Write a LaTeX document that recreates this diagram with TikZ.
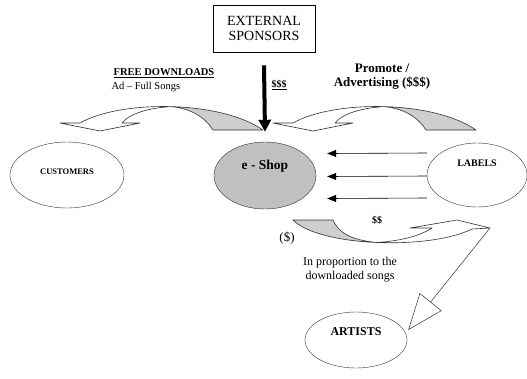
\documentclass[tikz,border=0pt]{standalone}
\usepackage{fontspec}
\setmainfont{Liberation Serif}
\usetikzlibrary{arrows.meta, shapes.geometric}
\definecolor{shopgray}{RGB}{192,192,192}
\definecolor{bandgray}{RGB}{206,206,206}
\definecolor{edge}{RGB}{50,50,50}

\begin{document}
\begin{tikzpicture}[x=1pt, y=-1pt,
    party/.style={draw=edge, ellipse, inner sep=0pt, font=\bfseries},
    band/.style={draw=edge, line width=0.6pt, line join=round},
    flow/.style={-{Triangle[length=9pt,width=7pt]}, line width=0.6pt},
    cash/.style={-{Triangle[length=12pt,width=12pt]}, line width=4pt},
    share/.style={-{Triangle[open,length=36pt,width=28pt]}, line width=0.5pt, draw=edge}
  ]
  \useasboundingbox (0,0) rectangle (527,378);

  % parties
  \node[draw, line width=0.8pt, minimum width=102pt, minimum height=47pt, align=center,
    font=\fontsize{14}{15}\selectfont] (sponsors) at (264,28.5) {EXTERNAL\\SPONSORS};
  \node[party, minimum width=114pt, minimum height=66pt, font=\bfseries\fontsize{8.5}{10}\selectfont,
    text height=6pt, text depth=8pt] (customers) at (67,175) {CUSTOMERS};
  \node[party, fill=shopgray, minimum width=102pt, minimum height=67pt, font=\bfseries\fontsize{13.5}{15}\selectfont,
    text height=8pt, text depth=20pt] (shop) at (265,175.5) {e - Shop};
  \node[party, minimum width=100pt, minimum height=64pt, font=\bfseries\fontsize{10}{12}\selectfont,
    text height=7pt, text depth=24pt] (labels) at (477,175) {LABELS};
  \node[party, minimum width=102pt, minimum height=56pt, font=\bfseries\fontsize{12}{14}\selectfont,
    text height=8pt, text depth=17pt] (artists) at (356,340) {ARTISTS};

  % curved band arrows over the top
  \foreach \dx in {0,213} {
    \begin{scope}[shift={(\dx,0)}]
      \filldraw[band, fill=bandgray] (170.4,106.6) .. controls (205.75,107.5) and (241.5,115) .. (263,130)
        -- (213,130) .. controls (205,117) and (190,108) .. (170.4,106.6) -- cycle;
      \filldraw[band, fill=white] (80,123) .. controls (100,111.5) and (135,105.75) .. (170.4,106.6)
        .. controls (150,108) and (130,113) .. (122,123) -- (140,123) -- (100,131) -- (60,123) -- cycle;
    \end{scope}
  }

  % band arrow under the shop
  \filldraw[band, fill=bandgray] (293,220) .. controls (306.5,233.5) and (340.75,241) .. (376.9,242.5)
    .. controls (350,240) and (338,232) .. (333,220) -- cycle;
  \filldraw[band, fill=white] (376.9,242.5) .. controls (413,244) and (451,239.5) .. (472,229)
    -- (490,228) -- (457,220) -- (410,228) -- (432,228) .. controls (420,236) and (400,241) .. (376.9,242.5) -- cycle;
  \coordinate (bandtip) at (490,228);

  % money and goods
  \draw[cash] ([yshift=-13pt]sponsors.south) -- ([yshift=10pt]shop.north);
  \draw[flow] ([yshift=22pt]labels.west) -- ([yshift=22pt,xshift=11pt]shop.east);
  \draw[flow] ([yshift=-1pt]labels.west) -- ([yshift=-1pt,xshift=11pt]shop.east);
  \draw[flow] ([yshift=-23pt]labels.west) -- ([yshift=-23pt,xshift=11pt]shop.east);
  \draw[share] (bandtip) -- ([yshift=10pt,xshift=1pt]artists.east);

  % texts
  \node[font=\bfseries\fontsize{10.5}{12}\selectfont] (free) at (164,73) {\underline{FREE DOWNLOADS}};
  \node[anchor=west, font=\fontsize{10.5}{12}\selectfont] (songs) at (108,87) {Ad -- Full Songs};
  \node[font=\bfseries\fontsize{10}{12}\selectfont] (sss) at (279,85) {\underline{\$\$\$}};
  \node[align=center, font=\bfseries\fontsize{13}{14}\selectfont] (promote) at (382,77) {Promote /\\Advertising (\$\$\$)};
  \node[font=\bfseries\fontsize{10}{12}\selectfont] (ss) at (377,220) {\$\$};
  \node[font=\fontsize{13}{14}\selectfont] (s) at (287,238) {(\$)};
  \node[align=center, font=\fontsize{12}{14}\selectfont] (prop) at (350,270) {In proportion to the\\downloaded songs};
\end{tikzpicture}
\end{document}
